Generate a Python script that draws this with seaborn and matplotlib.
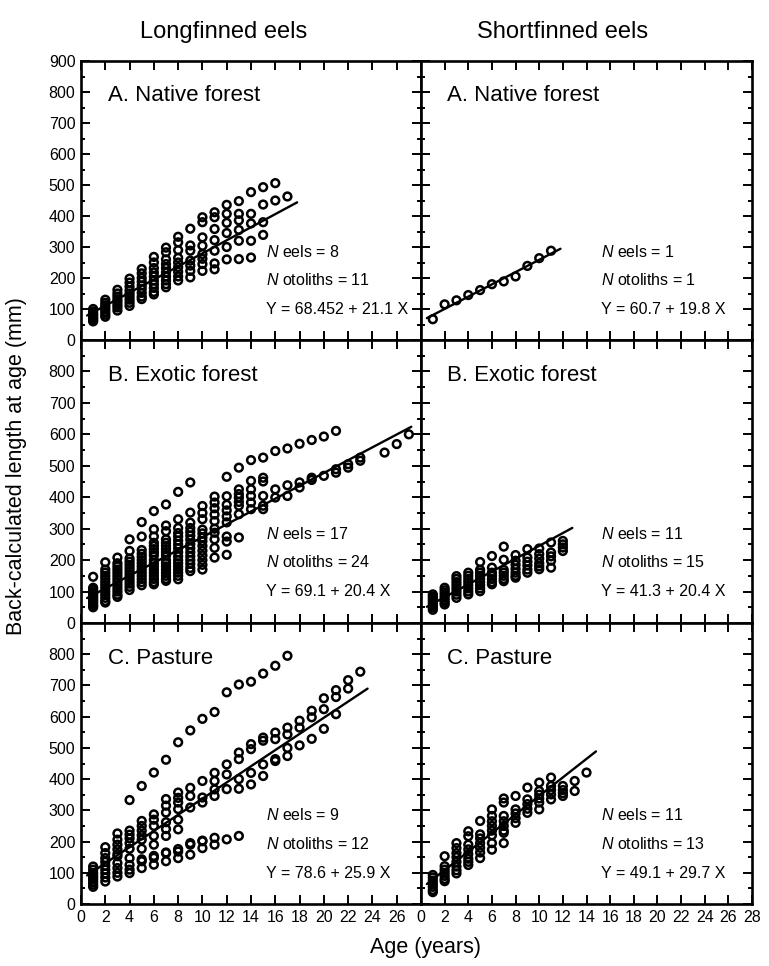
import numpy as np
import pandas as pd
import matplotlib
matplotlib.use("Agg")
import matplotlib.pyplot as plt
from matplotlib.ticker import MultipleLocator
import seaborn as sns

# back-calculated length (mm); list position 0 = age 1, 1 = age 2, ...
lf_native = [
    [100, 92, 85, 80, 75, 70, 65, 60],
    [130, 120, 112, 105, 98, 90, 82, 75],
    [162, 150, 140, 130, 122, 113, 105, 95],
    [198, 185, 172, 160, 150, 140, 130, 120, 110],
    [229, 215, 200, 188, 176, 165, 152, 140, 132],
    [268, 250, 232, 218, 205, 192, 180, 168, 155, 147],
    [298, 283, 260, 245, 232, 218, 205, 192, 180, 170],
    [333, 315, 290, 265, 250, 235, 220, 205, 192],
    [359, 305, 288, 256, 240, 223, 202],
    [396, 380, 331, 304, 277, 262, 245, 223],
    [412, 396, 358, 322, 288, 247, 228],
    [436, 407, 378, 345, 300, 260],
    [448, 407, 386, 355, 320, 261],
    [477, 407, 376, 320, 266],
    [493, 437, 380, 339],
    [506, 450],
    [463],
]
sf_native = [[67], [115], [128], [145], [161], [180], [189], [205], [239], [264], [288]]

lf_exotic = [
    [147, 112, 105, 98, 92, 86, 80, 74, 68, 62, 56, 50],
    [193, 170, 160, 150, 140, 130, 120, 110, 100, 90, 80, 70, 65],
    [208, 190, 180, 170, 160, 150, 140, 130, 120, 110, 100, 90, 83],
    [266, 229, 205, 195, 185, 175, 165, 155, 145, 135, 125, 115, 105],
    [321, 275, 232, 220, 210, 200, 190, 180, 170, 160, 150, 140, 130, 120],
    [356, 298, 275, 255, 245, 235, 225, 215, 200, 190, 180, 170, 160, 150, 140, 130, 123],
    [377, 310, 292, 266, 255, 245, 235, 225, 215, 200, 190, 180, 170, 160, 150, 140, 134],
    [417, 330, 302, 286, 275, 262, 250, 238, 225, 212, 200, 190, 180, 170, 160, 150, 139],
    [447, 351, 319, 302, 290, 278, 265, 250, 238, 225, 212, 200, 188, 175, 165],
    [372, 350, 330, 297, 285, 272, 260, 245, 230, 215, 200, 185, 170],
    [402, 383, 365, 345, 324, 300, 287, 266, 239, 208],
    [465, 403, 376, 358, 339, 320, 275, 259, 217],
    [494, 425, 410, 399, 385, 373, 346, 272],
    [518, 452, 425, 404, 383, 362],
    [526, 462, 450, 404, 373, 362],
    [547, 425, 399],
    [555, 438, 404],
    [570, 447, 431],
    [582, 462, 455],
    [593, 468],
    [611, 489, 478],
    [505, 494],
    [526, 516],
    [],
    [542],
    [569],
    [600],
]
sf_exotic = [
    [91, 84, 77, 70, 63, 56, 49, 42],
    [112, 104, 96, 88, 80, 72, 65, 59],
    [149, 140, 130, 120, 110, 100, 90, 80],
    [160, 150, 140, 130, 120, 110, 100, 91],
    [194, 169, 160, 150, 140, 130, 120, 110, 101],
    [213, 176, 160, 150, 140, 130, 123],
    [243, 201, 169, 160, 150, 140, 133],
    [216, 198, 185, 172, 160, 150, 144],
    [235, 208, 195, 183, 170, 160],
    [237, 219, 205, 190, 180, 171],
    [256, 224, 212, 198, 176],
    [261, 250, 240, 229],
]

lf_pasture = [
    [120, 110, 100, 92, 85, 78, 70, 62, 55],
    [182, 163, 147, 135, 122, 110, 98, 85, 72],
    [226, 206, 190, 175, 160, 153, 131, 115, 100, 88],
    [333, 235, 222, 210, 195, 177, 147, 125, 110, 99],
    [378, 266, 250, 235, 220, 206, 177, 143, 137, 115],
    [421, 287, 270, 250, 218, 190, 154, 148, 126],
    [462, 336, 315, 293, 262, 240, 218, 165, 163, 137],
    [518, 357, 340, 325, 304, 270, 239, 176, 168, 147],
    [556, 372, 346, 309, 195, 190, 158],
    [593, 394, 341, 325, 203, 201, 179],
    [615, 420, 394, 367, 346, 212, 190],
    [678, 447, 415, 368, 207],
    [703, 485, 464, 400, 369, 218],
    [712, 512, 496, 420, 383],
    [738, 533, 523, 447, 410],
    [763, 549, 528, 464, 458],
    [795, 565, 543, 500, 474],
    [587, 565, 508],
    [619, 598, 529],
    [659, 624, 561],
    [685, 663, 608],
    [717, 690],
    [744],
]
sf_pasture = [
    [93, 85, 75, 65, 55, 45, 38],
    [153, 121, 110, 100, 90, 80, 73],
    [195, 179, 163, 150, 135, 120, 108, 98],
    [233, 217, 190, 175, 160, 145, 135, 125],
    [266, 223, 210, 195, 180, 165, 147],
    [303, 282, 265, 250, 235, 220, 195, 174],
    [338, 325, 282, 265, 250, 235, 228, 195],
    [346, 303, 290, 275, 260],
    [373, 335, 320, 305, 292],
    [389, 362, 350, 338, 325, 303],
    [405, 378, 365, 351, 335],
    [378, 365, 355, 346],
    [394, 362],
    [421],
]

panel_names = ["A. Native forest", "A. Native forest", "B. Exotic forest",
               "B. Exotic forest", "C. Pasture", "C. Pasture"]
n_eels = [8, 1, 17, 11, 9, 11]
n_otoliths = [11, 1, 24, 15, 12, 13]
intercept = [68.452, 60.7, 69.1, 41.3, 78.6, 49.1]
slope = [21.1, 19.8, 20.4, 20.4, 25.9, 29.7]
fit_start = [0.5, 0.5, 0.5, 0.5, 0.5, 0.5]
fit_end = [17.8, 11.8, 27.2, 12.8, 23.6, 14.8]
columns = ["Longfinned eels", "Shortfinned eels"]

data = [lf_native, sf_native, lf_exotic, sf_exotic, lf_pasture, sf_pasture]

rows = []
for p, cols in enumerate(data):
    for i, vals in enumerate(cols):
        for v in vals:
            rows.append((p, i + 1, v))
df = pd.DataFrame(rows, columns=["panel", "age", "length"])

sns.set_style("ticks")
plt.rcParams["font.family"] = ["Liberation Sans", "DejaVu Sans"]
plt.rcParams["mathtext.fontset"] = "custom"
plt.rcParams["mathtext.rm"] = "Liberation Sans"
plt.rcParams["mathtext.it"] = "Liberation Sans:italic"
for k in ["text.color", "axes.labelcolor", "xtick.color", "ytick.color", "axes.edgecolor"]:
    plt.rcParams[k] = "black"

W, H = 769, 966
fig = plt.figure(figsize=(W / 100, H / 100), dpi=100)

col_x = [(81, 421), (421, 752)]
row_y = [(61, 340), (340, 623), (623, 904)]

for p in range(6):
    r, c = divmod(p, 2)
    x0, x1 = col_x[c]
    y0, y1 = row_y[r]
    ax = fig.add_axes([x0 / W, 1 - y1 / H, (x1 - x0) / W, (y1 - y0) / H])
    sub = df[df.panel == p]
    sns.scatterplot(data=sub, x="age", y="length", ax=ax, marker="o",
                    facecolor="none", edgecolor="black", s=31, linewidth=1.8,
                    legend=False)
    xs = np.array([fit_start[p], fit_end[p]])
    sns.lineplot(x=xs, y=intercept[p] + slope[p] * xs, ax=ax,
                 color="black", linewidth=1.7)

    ax.set_xlim(0, 28)
    ax.set_ylim(0, 900)
    ax.set_xticks(np.arange(0, 29, 2))
    ax.set_yticks(np.arange(0, 901, 100))
    ax.yaxis.set_minor_locator(MultipleLocator(50))
    ax.tick_params(which="both", direction="in", top=True, right=True,
                   width=1.4, labelsize=11.5, pad=4)
    ax.tick_params(which="major", length=6.5)
    ax.tick_params(which="minor", length=3)
    for s in ax.spines.values():
        s.set_linewidth(1.9)

    if r == 2:
        xt = np.arange(0, 29, 2)
        ax.set_xticklabels([str(v) if (c == 1 or v < 28) else "" for v in xt])
    else:
        ax.set_xticklabels([])
    if c == 0:
        yt = np.arange(0, 901, 100)
        ax.set_yticklabels([str(v) if (r == 0 or v < 900) else "" for v in yt])
    else:
        ax.set_yticklabels([])
    ax.set_xlabel("")
    ax.set_ylabel("")

    ax.text(0.08, 0.875, panel_names[p], transform=ax.transAxes,
            fontsize=16, va="center", ha="left")
    ax.text(0.545, 0.315, r"$\it{N}$ eels = %d" % n_eels[p],
            transform=ax.transAxes, fontsize=11.5, va="center")
    ax.text(0.545, 0.215, r"$\it{N}$ otoliths = %d" % n_otoliths[p],
            transform=ax.transAxes, fontsize=11.5, va="center")
    ax.text(0.545, 0.11, "Y = %s + %s X" % (intercept[p], slope[p]),
            transform=ax.transAxes, fontsize=11.5, va="center")

fig.text(224 / W, 1 - 32 / H, columns[0], fontsize=17, ha="center", va="center")
fig.text(563 / W, 1 - 32 / H, columns[1], fontsize=17, ha="center", va="center")
fig.text(17 / W, 1 - 466 / H, "Back-calculated length at age (mm)",
         fontsize=15.5, rotation=90, ha="center", va="center")
fig.text(425 / W, 1 - 947 / H, "Age (years)", fontsize=15.5,
         ha="center", va="center")

fig.savefig("out.png", dpi=100)
